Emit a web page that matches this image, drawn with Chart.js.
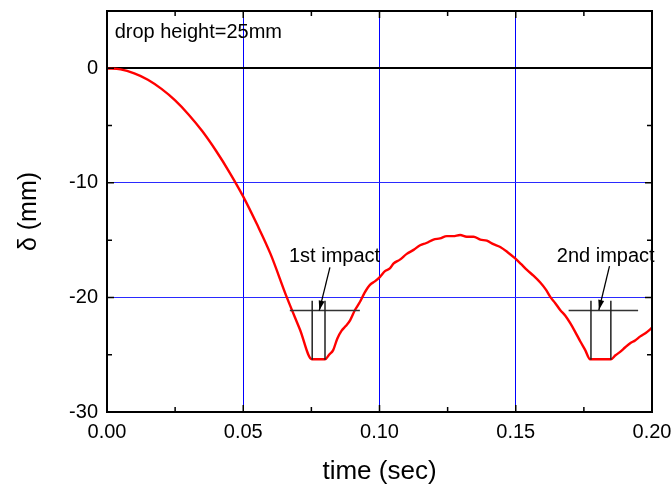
<!DOCTYPE html>
<html>
<head>
<meta charset="utf-8">
<script src="https://cdn.jsdelivr.net/npm/chart.js@4.4.0/dist/chart.umd.min.js"></script>
<style>
  html, body { margin: 0; padding: 0; background: #fff; }
  #wrap { width: 672px; height: 487px; }
</style>
</head>
<body>
<div id="wrap"><canvas id="myChart" width="672" height="487"></canvas></div>
<script>
// displacement curve
var times = [0, 0.005, 0.01, 0.015, 0.02, 0.025, 0.03, 0.035, 0.04, 0.045, 0.05, 0.055, 0.06, 0.066, 0.0708, 0.0752,
  0.0800, 0.0815, 0.0830, 0.0845, 0.0861, 0.0876, 0.0892, 0.0910, 0.0928, 0.0945, 0.0965, 0.0983, 0.1002, 0.1020,
  0.1039, 0.1051, 0.1075, 0.1100, 0.1125, 0.1149, 0.1172, 0.1198, 0.1222, 0.1247, 0.1270, 0.1296, 0.1320, 0.1345,
  0.1370, 0.1394, 0.1418, 0.1443, 0.1470, 0.1498, 0.1520, 0.1541, 0.1565, 0.1590, 0.1610, 0.1628, 0.1645, 0.1663,
  0.1682, 0.1700, 0.1718, 0.1737, 0.1755, 0.1773, 0.1849, 0.1866, 0.1883, 0.1902, 0.1920, 0.1938, 0.1957, 0.1977, 0.2000];
var delta = [0, -0.1, -0.45, -1.0, -1.8, -2.8, -4.05, -5.5, -7.2, -9.1, -11.2, -13.6, -16.2, -20.0, -22.8, -25.4,
  -25.4, -25.0, -24.6, -23.6, -22.9, -22.5, -22.0, -21.1, -20.4, -19.6, -18.9, -18.6, -18.2, -17.7,
  -17.45, -17.05, -16.7, -16.2, -15.85, -15.45, -15.25, -14.95, -14.85, -14.65, -14.65, -14.55, -14.7, -14.7,
  -14.95, -15.05, -15.35, -15.6, -16.05, -16.6, -17.1, -17.6, -18.1, -18.7, -19.3, -20.0, -20.5, -21.1,
  -21.6, -22.25, -23.0, -23.85, -24.6, -25.4, -25.4, -25.05, -24.75, -24.35, -24.0, -23.75, -23.4, -23.1, -22.65];

var xTicks = [0, 0.05, 0.10, 0.15, 0.20];
var xMinor = [0.025, 0.075, 0.125, 0.175];
var yTicks = [-30, -20, -10, 0];
var yMinor = [-25, -15, -5];

// impact markers
var impactLines = [0.0753, 0.0800, 0.1776, 0.1849];
var impactTop = -20.3;
var impactBottom = -25.45;
var bracketFrom = [0.0671, 0.1694];
var bracketTo = [0.0928, 0.1949];
var bracketY = -21.15;
var impactLabels = ["1st impact", "2nd impact"];
var labelX = [0.0835, 0.1830];
var labelY = -16.45;
var arrowFrom = [[0.0818, -17.38], [0.1844, -17.26]];
var arrowTo = [[0.0779, -21.15], [0.1805, -21.1]];
var note = "drop height=25mm";
var noteAt = [0.0028, 3.15];

var FONT = "'Liberation Sans', Arial, sans-serif";

var datasets = [];
impactLines.forEach(function (x) {
  datasets.push({ data: [{ x: x, y: impactTop }, { x: x, y: impactBottom }], borderColor: '#222', borderWidth: 1.5, pointRadius: 0 });
});
bracketFrom.forEach(function (x, i) {
  datasets.push({ data: [{ x: x, y: bracketY }, { x: bracketTo[i], y: bracketY }], borderColor: '#333', borderWidth: 1.5, pointRadius: 0 });
});
datasets.push({
  data: times.map(function (t, i) { return { x: t, y: delta[i] }; }),
  borderColor: '#ff0000', borderWidth: 2.4, pointRadius: 0, cubicInterpolationMode: 'monotone'
});

var extras = {
  id: 'extras',
  afterDatasetsDraw: function (chart) {
    var ctx = chart.ctx, xs = chart.scales.x, ys = chart.scales.y, a = chart.chartArea;
    ctx.save();
    // arrows
    ctx.strokeStyle = '#000'; ctx.fillStyle = '#000'; ctx.lineWidth = 1.3;
    arrowFrom.forEach(function (p, i) {
      var x1 = xs.getPixelForValue(p[0]), y1 = ys.getPixelForValue(p[1]);
      var x2 = xs.getPixelForValue(arrowTo[i][0]), y2 = ys.getPixelForValue(arrowTo[i][1]);
      var ang = Math.atan2(y2 - y1, x2 - x1);
      ctx.beginPath(); ctx.moveTo(x1, y1); ctx.lineTo(x2, y2); ctx.stroke();
      ctx.beginPath();
      ctx.moveTo(x2, y2);
      ctx.lineTo(x2 - 10 * Math.cos(ang) + 3 * Math.sin(ang), y2 - 10 * Math.sin(ang) - 3 * Math.cos(ang));
      ctx.lineTo(x2 - 10 * Math.cos(ang) - 3 * Math.sin(ang), y2 - 10 * Math.sin(ang) + 3 * Math.cos(ang));
      ctx.closePath(); ctx.fill();
    });
    // texts
    ctx.font = '20px ' + FONT;
    ctx.textBaseline = 'middle';
    ctx.textAlign = 'center';
    impactLabels.forEach(function (s, i) {
      ctx.fillText(s, xs.getPixelForValue(labelX[i]), ys.getPixelForValue(labelY));
    });
    ctx.textAlign = 'left';
    ctx.fillText(note, xs.getPixelForValue(noteAt[0]), ys.getPixelForValue(noteAt[1]));
    // frame
    ctx.strokeStyle = '#000'; ctx.lineWidth = 2;
    ctx.strokeRect(a.left, a.top, a.right - a.left, a.bottom - a.top);
    // inward ticks on all four sides
    ctx.lineWidth = 1.5;
    function tickX(v, len) {
      var px = xs.getPixelForValue(v);
      ctx.beginPath(); ctx.moveTo(px, a.bottom); ctx.lineTo(px, a.bottom - len);
      ctx.moveTo(px, a.top); ctx.lineTo(px, a.top + len); ctx.stroke();
    }
    function tickY(v, len) {
      var py = ys.getPixelForValue(v);
      ctx.beginPath(); ctx.moveTo(a.left, py); ctx.lineTo(a.left + len, py);
      ctx.moveTo(a.right, py); ctx.lineTo(a.right - len, py); ctx.stroke();
    }
    xTicks.forEach(function (v) { tickX(v, 7); });
    xMinor.forEach(function (v) { tickX(v, 5); });
    yTicks.forEach(function (v) { tickY(v, 7); });
    yMinor.forEach(function (v) { tickY(v, 5); });
    ctx.restore();
  }
};

new Chart(document.getElementById('myChart'), {
  type: 'line',
  data: { datasets: datasets },
  plugins: [extras],
  options: {
    responsive: false,
    animation: false,
    layout: { padding: { top: 11, right: 20, left: 0, bottom: 0 } },
    plugins: { legend: { display: false }, tooltip: { enabled: false } },
    scales: {
      x: {
        type: 'linear', min: 0, max: 0.2,
        afterBuildTicks: function (s) { s.ticks = xTicks.map(function (v) { return { value: v }; }); },
        afterFit: function (s) { s.height = 75; s.paddingLeft = 0; s.paddingRight = 0; },
        border: { display: false },
        grid: {
          drawTicks: false,
          color: function (c) { var v = c.tick ? c.tick.value : null; return (v === 0 || v === 0.2) ? 'rgba(0,0,0,0)' : '#0000ff'; },
          lineWidth: 1
        },
        ticks: {
          padding: 8, color: '#000', maxRotation: 0,
          font: { family: FONT, size: 20 },
          callback: function (v) { return v.toFixed(2); }
        },
        title: { display: true, text: 'time (sec)', color: '#000', font: { family: FONT, size: 26 }, padding: { top: 0, bottom: 0 } }
      },
      y: {
        type: 'linear', min: -30, max: 5,
        afterBuildTicks: function (s) { s.ticks = yTicks.map(function (v) { return { value: v }; }); },
        afterFit: function (s) { s.width = 107; s.paddingTop = 0; s.paddingBottom = 0; },
        border: { display: false },
        grid: {
          drawTicks: false,
          color: function (c) { var v = c.tick ? c.tick.value : null; return v === 0 ? '#000' : (v === -30 ? 'rgba(0,0,0,0)' : '#2a2aff'); },
          lineWidth: function (c) { return c.tick && c.tick.value === 0 ? 2 : 1; }
        },
        ticks: { padding: 9, color: '#000', font: { family: FONT, size: 20 } },
        title: { display: true, text: 'δ (mm)', color: '#000', font: { family: FONT, size: 25 }, padding: { top: 14, bottom: 0 } }
      }
    }
  }
});
</script>
</body>
</html>
